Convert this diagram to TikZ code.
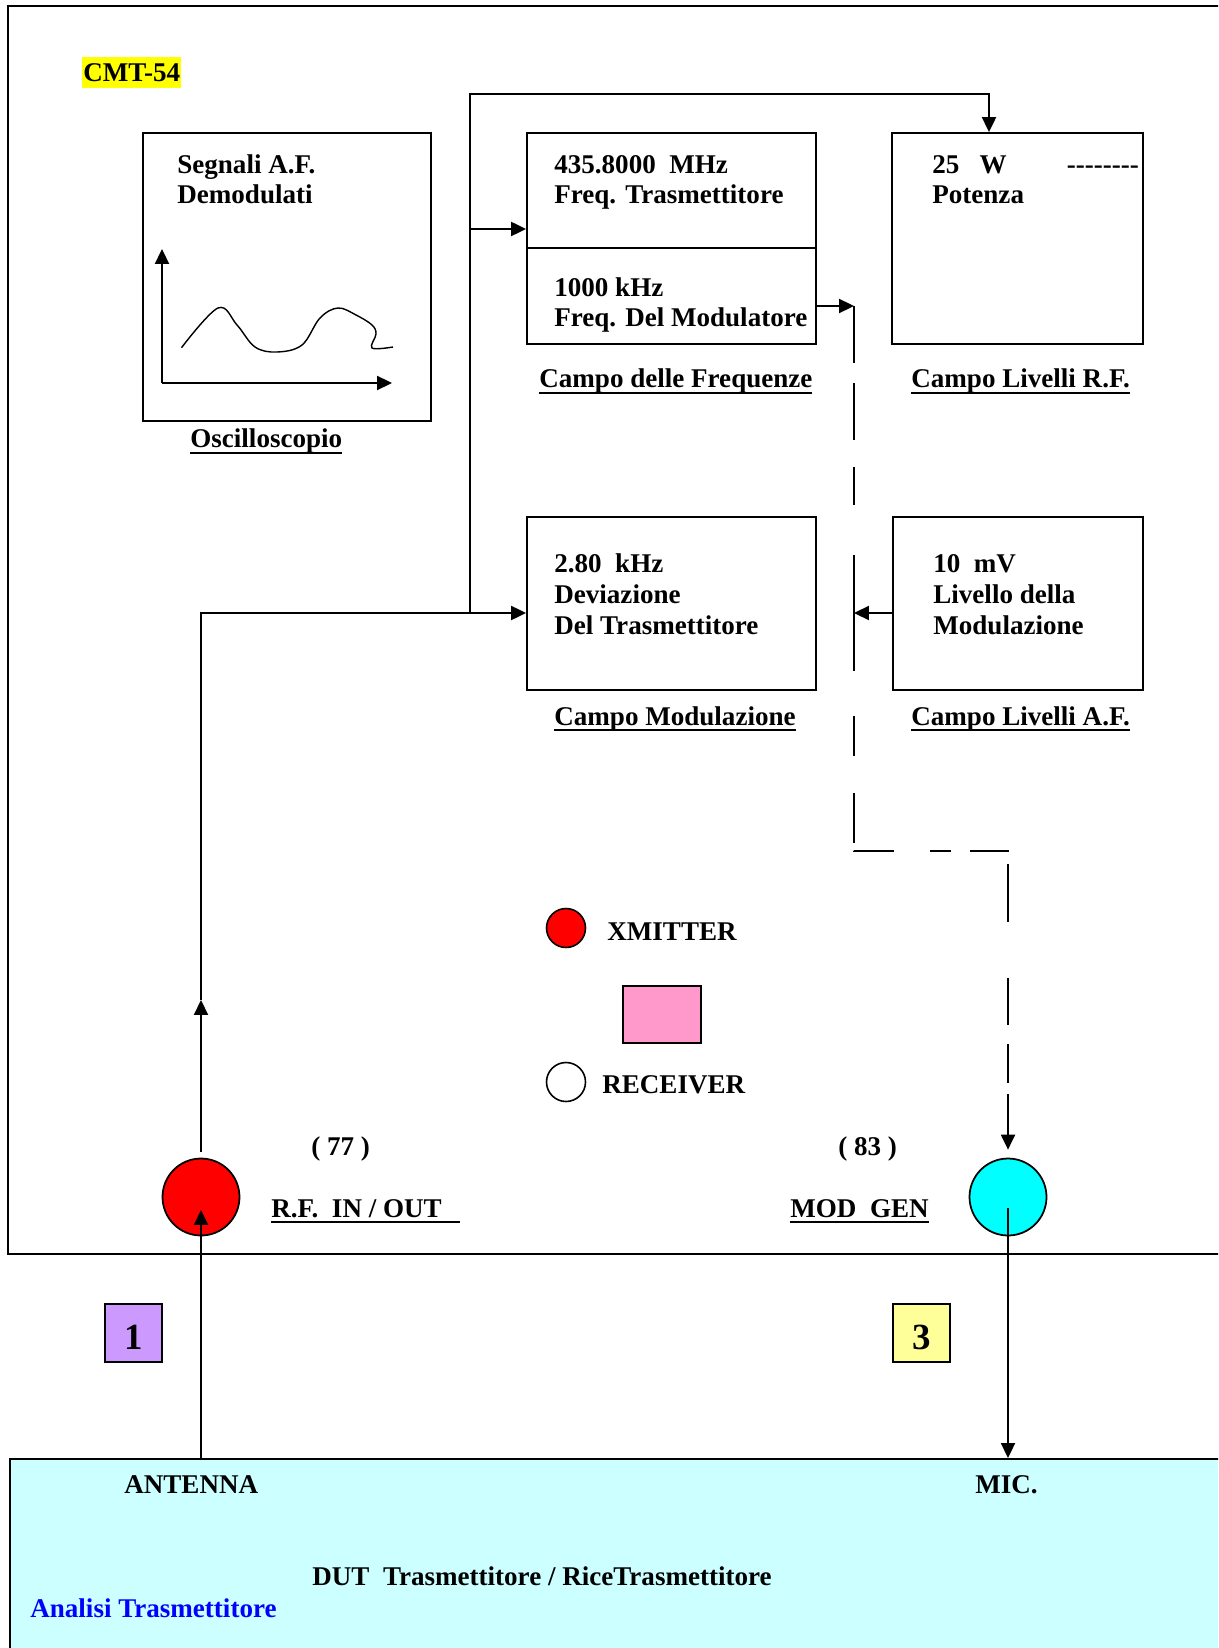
\documentclass[tikz,border=0pt]{standalone}
\usepackage{fontspec}
\setmainfont{Liberation Serif}
\usetikzlibrary{arrows.meta,calc}
\definecolor{dutbg}{HTML}{CCFFFF}
\definecolor{lav}{HTML}{CC99FF}
\definecolor{lyel}{HTML}{FFFF99}
\definecolor{pinkbox}{HTML}{FF99CC}
\definecolor{hl}{HTML}{FFFF00}
\definecolor{redc}{HTML}{FF0000}
\definecolor{cyanc}{HTML}{00FFFF}
\definecolor{bluet}{HTML}{0000FF}
\newcommand\ulbox[1]{\setbox0\hbox{#1}\rlap{\rule[-3.6pt]{\wd0}{1.4pt}}\box0}
\newcommand\hy{-\kern0pt}
\begin{document}
\begin{tikzpicture}[x=0.02cm,y=-0.02cm,
  txt/.style={font=\fontsize{15.4}{17.4}\selectfont\bfseries, inner sep=0pt, anchor=base west, align=left},
  blk/.style={draw, line width=1.1pt, inner sep=0pt},
  conn/.style={line width=1pt},
  arr/.style={-{Triangle[length=8.5pt,width=8pt]}},
  numbox/.style={draw, line width=1pt, inner sep=0pt, minimum width=1.14cm, minimum height=1.16cm, text height=19pt, text depth=0pt, font=\fontsize{21}{24}\selectfont\bfseries}
]
\useasboundingbox (0,0) rectangle (1218,1648);
\clip (0,0) rectangle (1218,1648);

% outer instrument frame
\draw[line width=1.2pt] (1240,6) -- (8,6) -- (8,1254) -- (1240,1254);

% DUT box
\node[draw, line width=1.2pt, fill=dutbg, minimum width=24.6cm, minimum height=4.4cm, inner sep=0pt, anchor=north west] (dut) at (8.5,1458) {};

% blocks
\node[blk, minimum width=5.76cm, minimum height=5.76cm] (osc) at (287,277) {};
\node[blk, minimum width=5.78cm, minimum height=4.22cm] (freq) at (671.5,238.5) {};
\node[blk, minimum width=5.02cm, minimum height=4.22cm] (pow) at (1017.5,238.5) {};
\node[blk, minimum width=5.78cm, minimum height=3.46cm] (mod) at (671.5,603.5) {};
\node[blk, minimum width=5.0cm, minimum height=3.46cm] (af) at (1018,603.5) {};
\coordinate (dv) at (0,248);
\draw[line width=1.1pt] (freq.west |- dv) -- (freq.east |- dv);

% oscilloscope graph
\coordinate (ax0) at (162,383);
\coordinate (axy) at (162,249);
\coordinate (axx) at (392,383);
\draw[conn,arr] (ax0) -- (axy);
\draw[conn,arr] (ax0) -- (axx);
\draw[line width=0.8pt] plot[smooth, tension=0.6] coordinates {(181.5,347.7) (218,308) (237,325) (255,347) (277,352) (302,345) (320,318) (338,308) (356,315) (372,325) (376,334) (372,348) (393,347)};

% connectors
\node[circle, draw, line width=1pt, fill=redc, minimum size=1.54cm, inner sep=0pt] (rf) at (201,1197) {};
\node[circle, draw, line width=1pt, fill=cyanc, minimum size=1.54cm, inner sep=0pt] (mg) at (1008,1197) {};

\coordinate (rfup) at (201,1000);
\coordinate (rfc) at (201,613);
\draw[conn,arr] (rf |- dut.north) -- ($(rf.center)+(0,13)$);
\draw[conn,arr] ($(rf.north)+(0,-6)$) -- (rfup);
\draw[conn,arr] (rfup) -- (rfc) -- (rfc -| mod.west);

\coordinate (bj) at (470,613);
\coordinate (bt) at (470,94);
\coordinate (bf) at (470,229);
\coordinate (pt) at (989,94);
\draw[conn,arr] (bj) -- (bt) -- (pt) -- (pt |- pow.north);
\draw[conn,arr] (bf) -- (bf -| freq.west);

\coordinate (fm) at (854,306);
\coordinate (dc1) at (854,851);
\coordinate (dc2) at (1008,851);
\draw[conn,arr] (fm -| freq.east) -- (fm);
\draw[conn,arr,dash pattern=on 1.14cm off .4cm on 1.14cm off .54cm on .76cm off 1cm on 2.32cm off .9cm on .8cm off .74cm on 1cm off .16cm on .8cm off .72cm on .42cm off .38cm on .78cm off .24cm on 1.16cm off 1.12cm on .94cm off .38cm on .78cm off .22cm on 1.4cm]
  (fm) -- (dc1) -- (dc2) -- ($(mg.north)+(0,-8)$);
\draw[conn,arr] (bj -| af.west) -- (bj -| fm);
\draw[conn,arr] ($(mg.center)+(0,11)$) -- (mg |- dut.north);

% legend
\node[circle, draw, line width=0.9pt, fill=redc, minimum size=0.78cm, inner sep=0pt] (xm) at (566,928) {};
\node[circle, draw, line width=0.9pt, fill=white, minimum size=0.78cm, inner sep=0pt] (rx) at (566,1082) {};
\node[draw, line width=1pt, fill=pinkbox, minimum width=1.56cm, minimum height=1.14cm, inner sep=0pt] (pk) at (662,1014.5) {};

% number boxes
\node[numbox, fill=lav] (n1) at (133.5,1333) {1};
\node[numbox, fill=lyel] (n3) at (921.5,1333) {3};

% texts (multi-line nodes are anchored at the baseline of their last line)
\node[txt, fill=hl, inner xsep=0.02cm, text height=14.2pt, text depth=3.4pt] (cmt) at (82,82) {CMT-54};
\node[txt] (tosc) at (177,204) {Segnali A.F.\\Demodulati};
\node[txt] (tfreq1) at (554,204) {435.8000\ \ MHz\\Freq. Trasmettitore};
\node[txt] (tfreq2) at (554,327) {1000 kHz\\Freq. Del Modulatore};
\node[txt] (tpow) at (932,204) {25\ \ \ W\hspace{1.2cm}\hy\hy\hy\hy\hy\hy\hy\hy\\Potenza};
\node[txt] (tmod) at (554,634) {2.80\ \ kHz\\Deviazione\\Del Trasmettitore};
\node[txt] (taf) at (933,634) {10\ \ mV\\Livello della\\Modulazione};

\node[txt] (losc) at (190,448) {\ulbox{Oscilloscopio}};
\node[txt] (lfreq) at (539,388) {\ulbox{Campo delle Frequenze}};
\node[txt] (lpow) at (911,388) {\ulbox{Campo Livelli R.F.}};
\node[txt] (lmod) at (554,725) {\ulbox{Campo Modulazione}};
\node[txt] (laf) at (911,725) {\ulbox{Campo Livelli A.F.}};

\node[txt] (txm) at (607,940) {XMITTER};
\node[txt] (trx) at (602,1093) {RECEIVER};
\node[txt] (t77) at (311,1155) {( 77 )};
\node[txt] (trf) at (271,1217) {\ulbox{R.F.\ \ IN / OUT\hspace{0.36cm}}};
\node[txt] (t83) at (838,1155) {( 83 )};
\node[txt] (tmg) at (790,1217) {\ulbox{MOD\ \ GEN}};
\node[txt] (tant) at (124,1493) {ANTENNA};
\node[txt] (tmic) at (975,1493) {MIC.};
\node[txt] (tdut) at (312,1585) {DUT\ \ Trasmettitore / RiceTrasmettitore};
\node[txt, text=bluet] (tan) at (30,1617) {Analisi Trasmettitore};
\end{tikzpicture}
\end{document}
